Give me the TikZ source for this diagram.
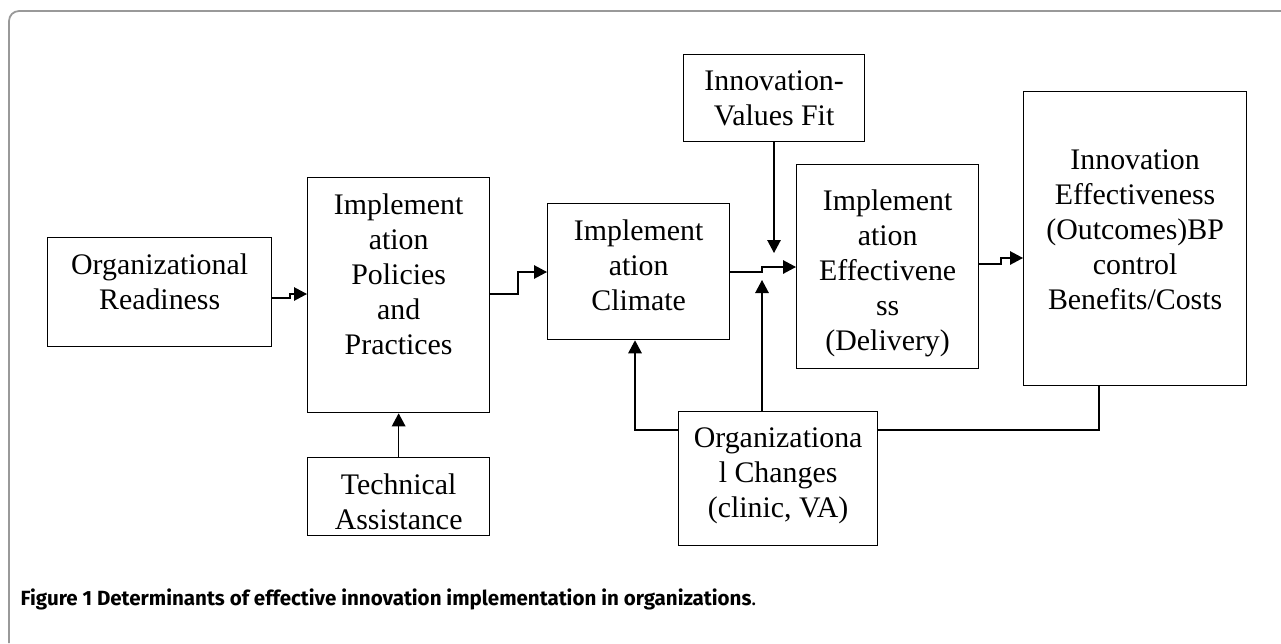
\documentclass[tikz,border=0pt]{standalone}
\usepackage{fontspec}
\setmainfont{Liberation Serif}
\newfontfamily\capfont{Fira Sans}
\usetikzlibrary{arrows.meta}

\tikzset{
  arr/.style={-{Triangle[length=0.26cm,width=0.27cm]}},
  txt/.style={anchor=north,align=center,inner sep=0pt,yshift=-0.33cm},
}

\begin{document}
\begin{tikzpicture}[x=0.02cm,y=-0.02cm,line width=0.75pt,
    font=\fontsize{17}{19.9}\selectfont]

      \useasboundingbox (0,0) rectangle (1281,643);
      \draw[gray!80,line width=1pt,rounded corners=0.2cm] (9,643) -- (9,11) -- (1281,11);

      \begin{scope}[every node/.style={draw,anchor=north west,inner sep=0pt}]
        \node[minimum width=4.48cm,minimum height=2.18cm,
              label={[txt]north:Organizational\\Readiness}] (ready) at (47,237) {};
        \node[minimum width=3.64cm,minimum height=4.70cm,
              label={[txt]north:Implement\\ation\\Policies\\and\\Practices}] (policies) at (307,177) {};
        \node[minimum width=3.64cm,minimum height=2.72cm,
              label={[txt]north:Implement\\ation\\Climate}] (climate) at (547,203) {};
        \node[minimum width=3.64cm,minimum height=4.08cm,
              label={[txt,yshift=-0.18cm]north:Implement\\ation\\Effectivene\\ss\\(Delivery)}] (delivery) at (796,164) {};
        \node[minimum width=3.62cm,minimum height=1.74cm,
              label={[txt]north:Innovation-\\Values Fit}] (fit) at (683,54) {};
        \node[minimum width=4.46cm,minimum height=5.88cm,
              label={[txt,yshift=-0.84cm]north:Innovation\\Effectiveness\\(Outcomes)BP\\control\\Benefits/Costs}] (outcomes) at (1023,91) {};
        \node[minimum width=3.64cm,minimum height=1.56cm,
              label={[txt]north:Technical\\Assistance}] (assist) at (307,457) {};
        \node[minimum width=3.98cm,minimum height=2.68cm,
              label={[txt]north:Organizationa\\l Changes\\(clinic, VA)}] (changes) at (678,411) {};
      \end{scope}

      \coordinate (fitend) at (774,253);
      \coordinate (chgend) at (762,280);

      % main chain
      \draw[arr] (ready.east |- 0,298) -- (290,298) -- (290,294) -- (policies.west |- 0,294);
      \draw[arr] (policies.east |- 0,294) -- (518,294) -- (518,272) -- (climate.west |- 0,272);
      \draw[arr] (climate.east |- 0,272) -- (762,272) -- (762,267) -- (delivery.west |- 0,267);
      \draw[arr] (delivery.east |- 0,264) -- (1001,264) -- (1001,258) -- (outcomes.west |- 0,258);

      % side inputs
      \draw[arr] (fit.south -| fitend) -- (fitend);
      \draw[arr] (assist.north) -- (policies.south);
      \draw[arr] (changes.west |- 0,430) -| (climate.south -| 635,0);
      \draw[arr] (changes.north -| chgend) -- (chgend);
      \draw (changes.east |- 0,430) -| (outcomes.south -| 1099,0);

      \node[anchor=base west,inner sep=0pt,font=\capfont\fontsize{11.7}{14}\selectfont] (caption) at (20,605)
        {\bfseries Figure 1 Determinants of effective innovation implementation in organizations\mdseries.};

    \end{tikzpicture}
\end{document}
